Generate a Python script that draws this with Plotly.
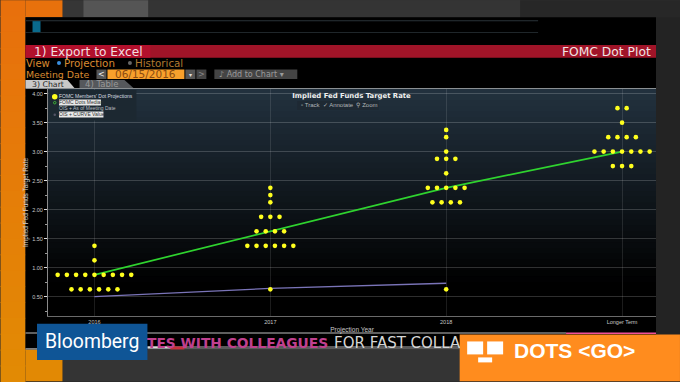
import plotly.graph_objects as go

W, H = 680, 382
L, R, T, B = 47.5, 656, 89, 316.5

categories = ["2016", "2017", "2018", "Longer Term"]
cat_pos = [0, 1, 2, 3]

levels_2016 = [1.375, 1.125, 0.875, 0.625]
counts_2016 = [1, 1, 9, 6]
levels_2017 = [2.375, 2.25, 2.125, 1.875, 1.625, 1.375, 0.625]
counts_2017 = [1, 1, 1, 3, 4, 6, 1]
levels_2018 = [3.375, 3.25, 3.0, 2.875, 2.625, 2.375, 2.125, 0.625]
counts_2018 = [1, 1, 1, 3, 1, 5, 4, 1]
levels_lt = [3.75, 3.5, 3.25, 3.0, 2.75]
counts_lt = [2, 1, 4, 7, 3]

median_vals = [0.875, 1.625, 2.375, 3.0]
ois_vals = [0.5, 0.64, 0.73]

y_title = "Implied Fed Funds Target Rate"
x_title = "Projection Year"
chart_title = "Implied Fed Funds Target Rate"
legend_labels = ["FOMC Members' Dot Projections", "FOMC Dots Median",
                 "OIS + As of Meeting Date", "OIS + CURVE Value"]

DOT_STEP = 0.0523
dot_x, dot_y = [], []
for c, lv, ct in zip(cat_pos,
                     [levels_2016, levels_2017, levels_2018, levels_lt],
                     [counts_2016, counts_2017, counts_2018, counts_lt]):
    for r, n in zip(lv, ct):
        for i in range(n):
            dot_x.append(c + (i - (n - 1) / 2) * DOT_STEP)
            dot_y.append(r)


def px(x):
    return (x - L) / (R - L)


def py(y):
    return (B - y) / (B - T)


shapes, annos = [], []


def rect(x0, y0, x1, y1, color, layer="below"):
    shapes.append(dict(type="rect", xref="paper", yref="paper", x0=px(x0), x1=px(x1),
                       y0=py(y0), y1=py(y1), fillcolor=color, line_width=0, layer=layer))


def circle(x0, y0, x1, y1, color, line=None):
    shapes.append(dict(type="circle", xref="paper", yref="paper", x0=px(x0), x1=px(x1), y0=py(y1), y1=py(y0),
                       fillcolor=color, line_width=1 if line else 0, line_color=line, layer="above"))


def text(x, y, s, size, color, anchor="left", font="DejaVu Sans", bg=None, angle=0):
    a = dict(xref="paper", yref="paper", x=px(x), y=py(y), text=s, showarrow=False,
             xanchor=anchor, yanchor="middle", textangle=angle, borderpad=0, borderwidth=0,
             font=dict(size=size, color=color, family=font))
    if bg:
        a["bgcolor"] = bg
    annos.append(a)


def lerp(c0, c1, t):
    return "rgb(%d,%d,%d)" % tuple(round(a + (b - a) * t) for a, b in zip(c0, c1))


# surroundings
rect(0, 0, 680, 382, "#2b2b2b")
rect(62, 0, 680, 17, "#363636")
rect(83, 0, 148, 17, "#555555")
rect(148, 0, 520, 17, "#343434")
rect(520, 0, 680, 17, "#272727")
rect(656, 17, 680, 382, "#232323")
rect(62, 350, 460, 382, "#343434")
orange_top, orange_bottom = (232, 112, 12), (226, 138, 4)
for i in range(24):
    y0 = i * 382 / 24
    col = lerp(orange_top, orange_bottom, i / 23)
    rect(0, y0, 25, y0 + 382 / 24 + 1, col)
rect(25, 0, 62, 17, lerp(orange_top, orange_bottom, 0.03))
rect(25, 350, 62, 382, lerp(orange_top, orange_bottom, 0.95))

# terminal
rect(25, 17, 656, 350, "#000000")
rect(25, 20, 538, 21, "#2a3338")
rect(25, 32, 538, 33, "#2a3338")
rect(32, 21, 40, 32, "#0a6a8c")
rect(25, 45, 656, 57.7, "#a01428")
rect(25, 45, 150, 57.7, "#b2102c")
text(33, 51.5, "1) Export to Excel", 12.2, "#f4dfe0")
text(562, 51.5, "FOMC Dot Plot", 12.3, "#f0e4e4")
rect(25, 88, 656, 89, "#8a8f92")

text(25, 63, "View", 10, "#d98a30")
circle(56.5, 61, 60.5, 65, "#3a8fe0")
text(64, 63, "Projection", 10.3, "#d98a30")
circle(127.5, 61, 131.5, 65, "#666666")
text(135, 63, "Historical", 10.3, "#b07a30")
text(25, 74, "Meeting Date", 9.4, "#d98a30")
rect(96, 69.5, 106, 79, "#555555")
text(101, 74, "<", 8, "#f0f0f0", anchor="center")
rect(107, 69.5, 184, 79, "#f8a02c")
text(145.5, 74, "06/15/2016", 10.5, "#8a4a10", anchor="center")
rect(185, 69.5, 195, 79, "#555555")
text(190, 74, "▾", 6, "#e0e0e0", anchor="center")
rect(196, 69.5, 206, 79, "#444444")
text(201, 74, ">", 8, "#888888", anchor="center")
rect(214, 69.5, 297, 79, "#444444")
text(219, 74, "♪ Add to Chart ▾", 8, "#9a9a9a")
for (x0, x1, x2, col) in [(25, 67, 74, "#c9c9c9"), (79, 124, 133, "#55585c")]:
    shapes.append(dict(type="path", xref="paper", yref="paper", layer="below", fillcolor=col, line_width=0,
                       path=f"M{px(x0)},{py(88)} L{px(x0)},{py(80)} L{px(x1)},{py(80)} L{px(x2)},{py(88)} Z"))
text(31, 84, "3) Chart", 7.8, "#222222")
text(85, 84, "4) Table", 8.5, "#999999")

# plot-area background gradient
N = 40
for i in range(N):
    t = i / (N - 1)
    y0 = T + (B - T) * i / N
    rect(L, y0, R, y0 + (B - T) / N + 1, lerp((34, 49, 62), (0, 0, 0), min(1, t * 1.15)))
rect(47.5, 316.5, 656, 318, "#000000")

# inner legend (above)
rect(48, 90, 136, 120.5, "#1c2831", layer="above")
rect(58.5, 99.5, 100.5, 105.5, "#e8e8e8", layer="above")
rect(58.5, 111.5, 103, 117.5, "#e8e8e8", layer="above")
circle(51.5, 94, 57, 99.5, "#ffff1e")
circle(53, 101.5, 55.5, 104, "#1a2a20", line="#3fae3f")
circle(53, 113.5, 55.5, 116, "#555566")
for y, s, col in zip([96.5, 102.5, 108.5, 114.5], legend_labels, ["#d8dde0", "#333333", "#b8bcc0", "#333333"]):
    text(59, y, s, 5, col, font="Liberation Sans")

# toolbar inside the chart
rect(297, 101, 378.5, 110, "#1e2933", layer="above")
text(301, 105.5, "▫ Track  ✓ Annotate  ⚲ Zoom", 6, "#b0b5b8", font="Liberation Sans")

# ticker and bottom strip
rect(25, 333, 566, 334, "#bdbdbd", layer="above")
rect(566, 333, 656, 334.5, "#f0509a", layer="above")
rect(25, 349, 37, 350, "#dddddd", layer="above")
rect(147, 346.5, 460, 350, "#5a5a5a", layer="above")
rect(147, 347, 171, 349, "#dddddd", layer="above")
rect(170, 347, 184, 350, "#c8303c", layer="above")
text(147, 343.5, "<b>TES WITH COLLEAGUES</b>", 13.8, "#c0408f", font="DejaVu Sans")
text(334, 343.5, "FOR FAST COLLA", 15, "#d5d5d5", font="DejaVu Sans")

# brand boxes
rect(36.5, 324.3, 147, 360.7, "#0f5596", layer="above")
text(91.5, 342.5, "Bloomberg", 19.4, "#ffffff", anchor="center", font="Roboto")
rect(459.5, 335, 680, 382, "#ff8c1e", layer="above")
rect(467, 342, 483, 355, "#ffffff", layer="above")
rect(487, 342, 503, 355, "#ffffff", layer="above")
rect(478, 358, 492, 363, "#ffffff", layer="above")
text(514, 351, "<b>DOTS &lt;GO&gt;</b>", 21, "#ffffff", font="Liberation Sans")

fig = go.Figure()
fig.add_trace(go.Scatter(x=cat_pos[:3], y=ois_vals, mode="lines", name=legend_labels[2],
                         line=dict(color="#7a74b8", width=1.3)))
fig.add_trace(go.Scatter(x=cat_pos, y=median_vals, mode="lines", name=legend_labels[1],
                         line=dict(color="#2fd32f", width=1.7)))
fig.add_trace(go.Scatter(x=dot_x, y=dot_y, mode="markers", name=legend_labels[0],
                         marker=dict(color="#ffff1e", size=4.6)))

fig.update_layout(
    width=W, height=H, showlegend=False,
    margin=dict(l=L, r=W - R, t=T, b=H - B, pad=0, autoexpand=False),
    paper_bgcolor="#2b2b2b", plot_bgcolor="rgba(0,0,0,0)",
    font=dict(family="Liberation Sans", color="#c8c8c8", size=6),
    title=dict(text="<b>" + chart_title + "</b>", x=351.5 / W, xanchor="center",
               y=1 - 96 / H, yanchor="middle", font=dict(size=6.9, color="#f0f0f0", family="DejaVu Sans")),
    shapes=shapes, annotations=annos,
    xaxis=dict(range=[-0.2642, 3.193], tickmode="array", tickvals=cat_pos, ticktext=categories,
               showgrid=True, gridcolor="rgba(255,255,255,0.11)", gridwidth=1, zeroline=False, showline=True,
               linecolor="#6a6a6a", ticks="", tickfont=dict(size=5.5, color="#c8c8c8"),
               title=dict(text=x_title, font=dict(size=6.5, color="#c8c8c8"), standoff=3)),
    yaxis=dict(range=[0.165, 4.08], tick0=0.5, dtick=0.5, tickformat=".2f",
               showgrid=True, gridcolor="rgba(255,255,255,0.18)", gridwidth=1, zeroline=False, showline=True,
               linecolor="#8a8a8a", ticks="outside", ticklen=3, tickcolor="#e0e0e0", tickwidth=1,
               minor=dict(dtick=0.25, ticks="outside", ticklen=2, tickcolor="#999999", showgrid=False),
               tickfont=dict(size=5.5, color="#c8c8c8"),
               title=dict(text=y_title, font=dict(size=6.5, color="#d0d0d0"), standoff=2)),
)
fig.write_html("out.html", config=dict(displayModeBar=False),
               post_script="document.body.style.margin='0';document.body.style.overflow='hidden';")
